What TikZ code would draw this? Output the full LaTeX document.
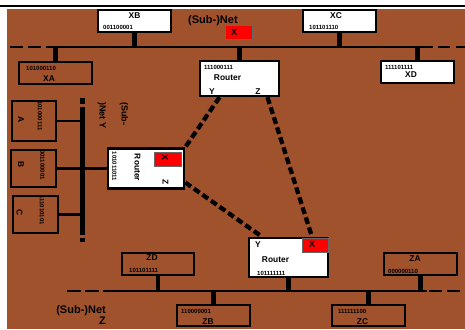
\documentclass[tikz,border=0pt]{standalone}
\usepackage{fontspec}
\setmainfont{Liberation Sans}
\definecolor{brun}{RGB}{160,82,45}
\begin{document}
\begin{tikzpicture}[x=1pt,y=-1pt]
\tikzstyle{boite} = [draw,line width=2.5pt,inner sep=0pt] %cadre des postes
\tikzstyle{blanc} = [boite,fill=white]
\tikzstyle{rouge} = [draw=black!60,line width=0.5pt,fill=red,inner sep=0pt]
\tikzstyle{nom} = [font=\bfseries\fontsize{8.4}{9}\selectfont,inner sep=0pt]
\tikzstyle{adr} = [font=\bfseries\fontsize{6}{7}\selectfont,inner sep=0pt]
\tikzstyle{croix} = [font=\bfseries\fontsize{9}{10}\selectfont,inner sep=0pt]
\tikzstyle{reseau} = [font=\bfseries\fontsize{11}{11}\selectfont,inner sep=0pt]
\tikzstyle{bus} = [line width=2.8pt]
\tikzstyle{tige} = [line width=4.5pt]
\tikzstyle{lien} = [line width=4.3pt,dash pattern=on 7pt off 3.5pt]

\useasboundingbox (0,0) rectangle (465,329);

%fond
\draw[line width=2pt] (0,6)--(465,6);
\fill[brun] (7,9) rectangle (465,329);

%les bus
\coordinate (Xo) at (47,47);
\coordinate (Xe) at (433,47);
\coordinate (Yo) at (82,107);
\coordinate (Ye) at (82,235);
\coordinate (Zo) at (103,291);
\coordinate (Ze) at (427,291);
\draw[bus] (Xo)--(Xe);
\draw[bus,dash pattern=on 13pt off 5pt] (10,47)--(Xo);
\draw[bus,dash pattern=on 12pt off 6pt] ([xshift=5pt]Xe)--(465,47);
\draw[line width=5pt] (Yo)--(Ye);
\draw[line width=5pt] (82,98)--(82,104);
\draw[line width=5pt] (82,238)--(82,242);
\draw[bus] (Zo)--(Ze);
\draw[bus,dash pattern=on 14pt off 4pt] (67,291)--(Zo);
\draw[bus,dash pattern=on 13pt off 5pt] ([xshift=2pt]Ze)--(465,291);

%reseau X
\node[blanc,minimum width=73pt,minimum height=22pt] (XB) at (134.5,21) {};
\node[nom] (nXB) at (134.5,16) {XB};
\node[adr,anchor=west] (aXB) at (103,27.5) {001100001};
\node[blanc,minimum width=73pt,minimum height=22pt] (XC) at (339.5,21) {};
\node[nom] (nXC) at (336,16) {XC};
\node[adr,anchor=west] (aXC) at (309,27.5) {101101110};
\node[boite,minimum width=73pt,minimum height=22pt] (XA) at (55.5,73) {};
\node[adr,anchor=west] (aXA) at (26,68) {101000110};
\node[nom] (nXA) at (49,78.5) {XA};
\node[blanc,minimum width=73pt,minimum height=22pt] (XD) at (417.5,72) {};
\node[adr,anchor=west] (aXD) at (385,67) {111101111};
\node[nom] (nXD) at (411,75) {XD};
\node[reseau,anchor=west] (netX) at (188,21) {(Sub-)Net};
\node[rouge,minimum width=27pt,minimum height=14pt] (rX) at (238.5,32) {};
\node[croix] (xX) at (234,32) {X};

%routeur du haut
\node[blanc,minimum width=79pt,minimum height=35pt] (R1) at (239.5,78.5) {};
\node[adr,anchor=west] (aR1) at (204,67) {111000111};
\node[nom] (nR1) at (227.5,78) {Router};
\node[nom] (yR1) at (212,92) {Y};
\node[nom] (zR1) at (258,92) {Z};

%reseau Y
\node[boite,minimum width=44pt,minimum height=40pt] (A) at (34,121) {};
\node[adr,rotate=-90] (aA) at (40,116) {101000111};
\node[nom,rotate=-90] (nA) at (21,120) {A};
\node[boite,minimum width=45pt,minimum height=37pt] (B) at (33.5,168.5) {};
\node[adr,rotate=-90] (aB) at (42.5,165) {001100001};
\node[nom,rotate=-90] (nB) at (21,165) {B};
\node[boite,minimum width=45pt,minimum height=37pt] (C) at (35.5,214.5) {};
\node[adr,rotate=-90] (aC) at (42,210) {111010101};
\node[nom,rotate=-90] (nC) at (19.5,213) {C};
\node[font=\bfseries\fontsize{9}{11}\selectfont,inner sep=0pt,align=left,rotate=-90] (netY) at (113,115.5) {(Sub-\\[11pt])Net Y};

%routeur de gauche
\node[blanc,minimum width=76pt,minimum height=40pt] (R2) at (146,168.5) {};
\node[rouge,minimum width=27pt,minimum height=14pt] (rR2) at (168,159) {};
\node[croix,rotate=-90] (xR2) at (165,157) {X};
\node[adr,rotate=-90] (aR2) at (114.5,166.5) {101011011};
\node[nom,rotate=-90] (nR2) at (137.5,167.5) {Router};
\node[nom,rotate=-90] (zR2) at (165.5,182.5) {Z};

%routeur du bas
\node[blanc,minimum width=79pt,minimum height=39pt] (R3) at (288.5,257.5) {};
\node[rouge,minimum width=26pt,minimum height=14pt] (rR3) at (315,245) {};
\node[croix] (xR3) at (312,244) {X};
\node[nom] (yR3) at (258,245) {Y};
\node[nom] (nR3) at (275.5,260) {Router};
\node[adr,anchor=west] (aR3) at (257,273) {101111111};

%reseau Z
\node[boite,minimum width=72pt,minimum height=22pt] (ZD) at (158,264) {};
\node[nom] (nZD) at (152,258) {ZD};
\node[adr,anchor=west] (aZD) at (129,270.5) {101101111};
\node[boite,minimum width=73pt,minimum height=22pt] (ZA) at (420.5,264) {};
\node[nom] (nZA) at (415,258.5) {ZA};
\node[adr,anchor=west] (aZA) at (388,271) {000000110};
\node[boite,minimum width=73pt,minimum height=21pt] (ZB) at (213.5,315.5) {};
\node[adr,anchor=west] (aZB) at (181,311) {110000001};
\node[nom] (nZB) at (208,321.5) {ZB};
\node[boite,minimum width=73pt,minimum height=21pt] (ZC) at (368.5,315.5) {};
\node[adr,anchor=west] (aZC) at (338,311) {111111100};
\node[nom] (nZC) at (362.5,321.5) {ZC};
\node[reseau,anchor=east,align=right] (netZ) at (106,315.5) {(Sub-)Net\\Z};

%raccordements
\draw[tige] (XB.south)--(XB.south |- Xo);
\draw[tige] (XC.south)--(XC.south |- Xo);
\draw[tige] (XA.north)--(XA.north |- Xo);
\draw[tige] (XD.north)--(XD.north |- Xo);
\draw[tige] (R1.north)--(R1.north |- Xo);
\draw[bus] (A.east)--(A.east -| Yo);
\draw[bus] (B.east)--(R2.west);
\draw[bus] (C.east)--(C.east -| Yo);
\draw[tige] (ZD.south)--(ZD.south |- Zo);
\draw[tige] (ZA.south)--(ZA.south |- Zo);
\draw[tige] (R3.south)--(R3.south |- Zo);
\draw[tige] (ZB.north)--(ZB.north |- Zo);
\draw[tige] (ZC.north)--(ZC.north |- Zo);

%liaisons entre routeurs
\draw[lien] ([xshift=-20pt]R1.south)--(R2.north east);
\draw[lien] ([xshift=28pt]R1.south)--([xshift=23.5pt]R3.north);
\draw[lien] ([yshift=-14pt]R2.east)--([xshift=-26.5pt]R3.north);
\end{tikzpicture}
\end{document}
